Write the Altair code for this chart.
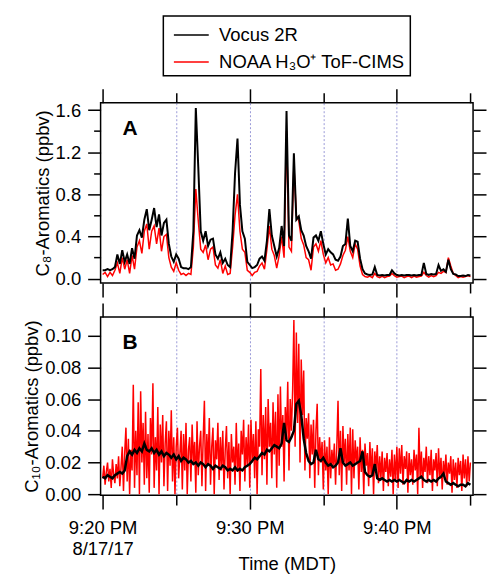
import altair as alt
import pandas as pd

FONT = "Liberation Sans"

series_names = ["Vocus 2R", "NOAA H\u2083O\u207a ToF-CIMS"]
series_colors = ["#000000", "#ff0000"]

x_tick_minutes = [0, 5, 10, 15, 20, 25]
x_label_minutes = [0, 10, 20]
x_tick_labels = ["9:20 PM", "9:30 PM", "9:40 PM"]
date_label = "8/17/17"
x_title = "Time (MDT)"

ya_ticks = [0.0, 0.2, 0.4, 0.6, 0.8, 1.0, 1.2, 1.4, 1.6]
yb_ticks = [0.0, 0.02, 0.04, 0.06, 0.08, 0.10]
ya_title = "C\u2088-Aromatics (ppbv)"
yb_title = "C\u2081\u2080-Aromatics (ppbv)"
panel_labels = ["A", "B"]

# minutes after 9:20 PM, sample steps in seconds
step_a = 10
step_b_vocus = 10
step_b_noaa = 5

a_vocus = [
    0.08, 0.08, 0.09, 0.08, 0.09, 0.11, 0.23, 0.14, 0.27, 0.16,
    0.23, 0.14, 0.29, 0.19, 0.41, 0.46, 0.39, 0.56, 0.66, 0.46,
    0.56, 0.67, 0.49, 0.61, 0.41, 0.53, 0.56, 0.33, 0.21, 0.16,
    0.23, 0.19, 0.11, 0.10, 0.10, 0.09, 0.11, 0.45, 1.62, 1.06,
    0.45, 0.36, 0.45, 0.31, 0.37, 0.38, 0.23, 0.19, 0.25, 0.15,
    0.19, 0.13, 0.11, 0.45, 1.00, 1.33, 0.70, 0.45, 0.38, 0.16,
    0.13, 0.10, 0.11, 0.13, 0.19, 0.21, 0.17, 0.36, 0.66, 0.41,
    0.31, 0.21, 0.29, 0.50, 0.31, 1.59, 0.41, 0.36, 1.19, 0.56,
    0.59, 0.46, 0.41, 0.31, 0.26, 0.19, 0.39, 0.41, 0.36, 0.45,
    0.33, 0.23, 0.28, 0.25, 0.23, 0.18, 0.17, 0.21, 0.31, 0.33,
    0.57, 0.31, 0.26, 0.36, 0.35, 0.19, 0.09, 0.05, 0.04, 0.035,
    0.04, 0.11, 0.035, 0.03, 0.035, 0.03, 0.035, 0.035, 0.08, 0.05,
    0.035, 0.03, 0.035, 0.03, 0.035, 0.035, 0.03, 0.035, 0.03, 0.035,
    0.035, 0.15, 0.045, 0.035, 0.045, 0.04, 0.045, 0.13, 0.075, 0.09,
    0.065, 0.18, 0.09, 0.045, 0.04, 0.025, 0.025, 0.03, 0.025, 0.035, 0.03,
]

a_noaa = [
    0.04, 0.06, 0.02, 0.06, 0.03, 0.08, 0.15, 0.05, 0.20, 0.09,
    0.18, 0.05, 0.22, 0.09, 0.30, 0.36, 0.24, 0.45, 0.52, 0.28,
    0.45, 0.50, 0.33, 0.48, 0.26, 0.40, 0.42, 0.20, 0.11, 0.07,
    0.15, 0.08, 0.04, 0.05, 0.03, 0.05, 0.04, 0.30, 0.85, 0.55,
    0.28, 0.25, 0.32, 0.18, 0.28, 0.30, 0.13, 0.10, 0.18, 0.05,
    0.12, 0.04, 0.05, 0.30, 0.60, 0.80, 0.45, 0.28, 0.25, 0.08,
    0.06, 0.03, 0.06, 0.07, 0.12, 0.15, 0.09, 0.28, 0.50, 0.28,
    0.22, 0.10, 0.22, 0.40, 0.20, 1.40, 0.30, 0.26, 1.08, 0.60,
    0.55, 0.38, 0.32, 0.20, 0.18, 0.08, 0.30, 0.33, 0.26, 0.36,
    0.23, 0.15, 0.20, 0.13, 0.14, 0.08, 0.09, 0.14, 0.22, 0.27,
    0.40, 0.26, 0.20, 0.33, 0.28, 0.12, 0.04, 0.02, 0.015, 0.025,
    0.01, 0.05, 0.02, 0.01, 0.025, 0.01, 0.02, 0.025, 0.05, 0.03,
    0.015, 0.02, 0.025, 0.01, 0.02, 0.025, 0.01, 0.025, 0.015, 0.02,
    0.025, 0.06, 0.03, 0.015, 0.03, 0.02, 0.03, 0.06, 0.05, 0.07,
    0.06, 0.20, 0.12, 0.05, 0.03, 0.01, 0.02, 0.015, 0.02, 0.03, 0.02,
]

b_vocus = [
    0.011, 0.010, 0.012, 0.011, 0.010, 0.012, 0.013, 0.014, 0.013, 0.015,
    0.024, 0.027, 0.025, 0.028, 0.026, 0.029, 0.027, 0.032, 0.028, 0.027,
    0.029, 0.026, 0.028, 0.025, 0.027, 0.024, 0.026, 0.025, 0.023, 0.025,
    0.022, 0.024, 0.021, 0.023, 0.022, 0.020, 0.021, 0.019, 0.020, 0.018,
    0.020, 0.019, 0.017, 0.019, 0.018, 0.016, 0.018, 0.017, 0.016, 0.018,
    0.017, 0.015, 0.016, 0.015, 0.017, 0.015, 0.016, 0.015, 0.017, 0.018,
    0.019, 0.021, 0.023, 0.022, 0.024, 0.026, 0.025, 0.028, 0.027, 0.029,
    0.031, 0.030, 0.029, 0.032, 0.045, 0.034, 0.033, 0.036, 0.040, 0.057,
    0.059, 0.050, 0.035, 0.026, 0.021, 0.019, 0.020, 0.028, 0.022, 0.021,
    0.023, 0.020, 0.018, 0.019, 0.017, 0.018, 0.020, 0.029, 0.020, 0.018,
    0.019, 0.020, 0.018, 0.019, 0.020, 0.021, 0.027, 0.014, 0.012, 0.011,
    0.012, 0.019, 0.010, 0.009, 0.010, 0.009, 0.008, 0.009, 0.008, 0.009,
    0.008, 0.009, 0.008, 0.007, 0.009, 0.008, 0.009, 0.008, 0.009, 0.010,
    0.011, 0.009, 0.008, 0.009, 0.008, 0.009, 0.008, 0.010, 0.011, 0.013,
    0.008, 0.007, 0.006, 0.007, 0.006, 0.005, 0.006, 0.006, 0.005, 0.007, 0.006,
]

# one row per minute (12 samples of 5 s)
b_noaa = [
    0.010, 0.018, 0.006, 0.014, 0.020, 0.008, 0.016, 0.004, 0.022, 0.012, 0.007, 0.019,
    0.010, 0.024, 0.005, 0.017, 0.030, 0.002, 0.026, 0.042, 0.008, 0.035, 0.000, 0.028,
    0.015, 0.069, 0.004, 0.040, 0.012, 0.058, 0.000, 0.065, 0.020, 0.045, 0.006, 0.052,
    0.010, 0.038, 0.001, 0.048, 0.025, 0.070, 0.004, 0.036, 0.015, 0.055, 0.000, 0.044,
    0.020, 0.050, 0.005, 0.032, 0.046, 0.002, 0.040, 0.018, 0.053, 0.008, 0.036, 0.000,
    0.030, 0.042, 0.010, 0.025, 0.040, 0.003, 0.038, 0.015, 0.045, 0.000, 0.028, 0.036,
    0.008, 0.044, 0.020, 0.033, 0.001, 0.046, 0.012, 0.030, 0.040, 0.005, 0.035, 0.059,
    0.002, 0.038, 0.018, 0.048, 0.006, 0.030, 0.042, 0.000, 0.034, 0.022, 0.045, 0.009,
    0.036, 0.015, 0.040, 0.003, 0.028, 0.043, 0.010, 0.033, 0.000, 0.038, 0.020, 0.030,
    0.006, 0.045, 0.014, 0.032, 0.002, 0.040, 0.025, 0.047, 0.008, 0.036, 0.018, 0.044,
    0.004, 0.047, 0.020, 0.038, 0.010, 0.046, 0.000, 0.041, 0.030, 0.079, 0.012, 0.050,
    0.022, 0.055, 0.006, 0.060, 0.030, 0.045, 0.010, 0.058, 0.025, 0.052, 0.004, 0.063,
    0.018, 0.068, 0.030, 0.050, 0.008, 0.055, 0.035, 0.071, 0.015, 0.060, 0.040, 0.066,
    0.110, 0.030, 0.102, 0.045, 0.095, 0.020, 0.085, 0.050, 0.078, 0.015, 0.048, 0.035,
    0.051, 0.010, 0.044, 0.025, 0.047, 0.004, 0.040, 0.057, 0.012, 0.036, 0.020, 0.033,
    0.003, 0.034, 0.015, 0.030, 0.000, 0.036, 0.010, 0.028, 0.018, 0.032, 0.006, 0.030,
    0.059, 0.012, 0.040, 0.002, 0.043, 0.020, 0.035, 0.006, 0.038, 0.015, 0.042, 0.000,
    0.041, 0.010, 0.034, 0.020, 0.030, 0.003, 0.036, 0.014, 0.028, 0.000, 0.032, 0.018,
    0.026, 0.005, 0.033, 0.012, 0.029, 0.000, 0.027, 0.016, 0.031, 0.007, 0.024, 0.010,
    0.027, 0.002, 0.023, 0.014, 0.026, 0.005, 0.022, 0.011, 0.028, 0.000, 0.025, 0.009,
    0.030, 0.004, 0.029, 0.013, 0.031, 0.006, 0.024, 0.016, 0.027, 0.001, 0.026, 0.012,
    0.022, 0.006, 0.028, 0.015, 0.025, 0.000, 0.042, 0.010, 0.027, 0.004, 0.023, 0.014,
    0.030, 0.007, 0.024, 0.012, 0.028, 0.002, 0.022, 0.015, 0.026, 0.005, 0.029, 0.010,
    0.023, 0.003, 0.021, 0.011, 0.025, 0.006, 0.020, 0.013, 0.024, 0.001, 0.022, 0.009,
    0.020, 0.004, 0.023, 0.012, 0.021, 0.002, 0.025, 0.010, 0.022, 0.005, 0.024, 0.008,
    0.020,
]


def frame(values, step_s, name):
    return pd.DataFrame({
        "t": [i * step_s / 60.0 for i in range(len(values))],
        "v": values,
        "s": name,
    })


df_a_v = frame(a_vocus, step_a, series_names[0])
df_a_n = frame(a_noaa, step_a, series_names[1])
df_b_v = frame(b_vocus, step_b_vocus, series_names[0])
df_b_n = frame(b_noaa, step_b_noaa, series_names[1])

x_scale = alt.Scale(domain=[-0.14, 25.18], nice=False, zero=False)
ya_scale = alt.Scale(domain=[-0.041, 1.669], nice=False, zero=False)
yb_scale = alt.Scale(domain=[-0.0006, 0.1119], nice=False, zero=False)

major_x = "round(datum.value) % 10 == 0"
edge_x = "datum.value == 0 || datum.value == 25"
major_ya = "round(datum.value * 5) % 2 == 0"

parts = []
for m, lab in zip(x_label_minutes, x_tick_labels):
    if m == 0:
        parts.append(f"datum.value == {m} ? ['{lab}', '{date_label}']")
    else:
        parts.append(f"datum.value == {m} ? '{lab}'")
x_label_expr = " : ".join(parts) + " : ''"

common_axis = dict(domain=False, tickColor="black", tickWidth=1.5,
                   labelFont=FONT, titleFont=FONT, labelColor="black",
                   titleColor="black")


def x_axis(orient, labeled=False):
    kw = dict(common_axis)
    kw.update(orient=orient, values=x_tick_minutes,
              tickSize={"condition": {"test": major_x, "value": 14}, "value": 10})
    if orient == "bottom":
        kw.update(grid=True, gridDash=[2, 2], gridColor="#9a9ad8", gridWidth=1,
                  gridOpacity={"condition": {"test": edge_x, "value": 0}, "value": 1})
    else:
        kw.update(grid=False)
    if labeled:
        kw.update(labels=True, labelExpr=x_label_expr, labelFontSize=18.5,
                  labelPadding=10, labelLineHeight=21, labelFlush=False,
                  labelOverlap=False,
                  title=x_title, titleFontSize=18.5, titleFontWeight="normal",
                  titlePadding=-4)
    else:
        kw.update(labels=False, title=None)
    return alt.Axis(**kw)


def y_axis_a(orient):
    kw = dict(common_axis)
    kw.update(orient=orient, values=ya_ticks, grid=False,
              tickSize={"condition": {"test": major_ya, "value": 13}, "value": 7})
    if orient == "left":
        kw.update(labels=True, labelExpr=f"{major_ya} ? format(datum.value, '.1f') : ''",
                  labelFontSize=18.5, labelPadding=7, title=ya_title,
                  titleFontSize=18.5, titleFontWeight="normal", titlePadding=3)
    else:
        kw.update(labels=False, title=None)
    return alt.Axis(**kw)


def y_axis_b(orient):
    kw = dict(common_axis)
    kw.update(orient=orient, values=yb_ticks, grid=False, tickSize=13)
    if orient == "left":
        kw.update(labels=True, format=".2f", labelFontSize=18.5, labelPadding=7,
                  title=yb_title, titleFontSize=18.5, titleFontWeight="normal",
                  titlePadding=3)
    else:
        kw.update(labels=False, title=None)
    return alt.Axis(**kw)


legend = alt.Legend(orient="none", legendX=63, legendY=-87, title=None,
                    symbolType="M-0.6,0H1.9", symbolSize=784, symbolStrokeWidth=1.5,
                    labelFontSize=18.5, labelFont=FONT, labelColor="black",
                    labelLimit=400, strokeColor="black", padding=4,
                    labelOffset=22, rowPadding=2)

color_enc = alt.Color("s:N", scale=alt.Scale(domain=series_names, range=series_colors),
                      legend=legend)


def panel_title(text, dy):
    return alt.TitleParams(text, anchor="start", frame="group", fontSize=21,
                           fontWeight="bold", font=FONT, baseline="alphabetic",
                           color="black", dx=22, dy=dy, offset=0)


a_red = alt.Chart(df_a_n).mark_line(strokeWidth=1.5, clip=True).encode(
    x=alt.X("t:Q", scale=x_scale, axis=x_axis("bottom")),
    y=alt.Y("v:Q", scale=ya_scale, axis=y_axis_a("left")),
    color=color_enc,
)
a_black = alt.Chart(df_a_v).mark_line(strokeWidth=2, clip=True).encode(
    x=alt.X("t:Q", scale=x_scale, axis=x_axis("top")),
    y=alt.Y("v:Q", scale=ya_scale, axis=y_axis_a("right")),
    color=color_enc,
)
panel_a = alt.layer(a_red, a_black).resolve_axis(x="independent", y="independent").properties(
    width=374, height=181, title=panel_title(panel_labels[0], 141),
)

b_red = alt.Chart(df_b_n).mark_line(strokeWidth=1.5, clip=True, color=series_colors[1]).encode(
    x=alt.X("t:Q", scale=x_scale, axis=x_axis("bottom", labeled=True)),
    y=alt.Y("v:Q", scale=yb_scale, axis=y_axis_b("left")),
)
b_black = alt.Chart(df_b_v).mark_line(strokeWidth=2.5, clip=True, color=series_colors[0]).encode(
    x=alt.X("t:Q", scale=x_scale, axis=x_axis("top")),
    y=alt.Y("v:Q", scale=yb_scale, axis=y_axis_b("right")),
)
panel_b = alt.layer(b_red, b_black).resolve_axis(x="independent", y="independent").properties(
    width=374, height=179, title=panel_title(panel_labels[1], 68),
)

chart = alt.vconcat(panel_a, panel_b, spacing=34, bounds="flush").resolve_legend(
    color="independent"
).properties(
    padding={"left": 22, "top": 13, "right": 0, "bottom": 0},
    background="white",
).configure(font=FONT).configure_view(stroke="black", strokeWidth=1.5).configure_legend(
    strokeWidth=1.5
)

chart.save("out.html", embed_options={"renderer": "svg", "actions": False})
